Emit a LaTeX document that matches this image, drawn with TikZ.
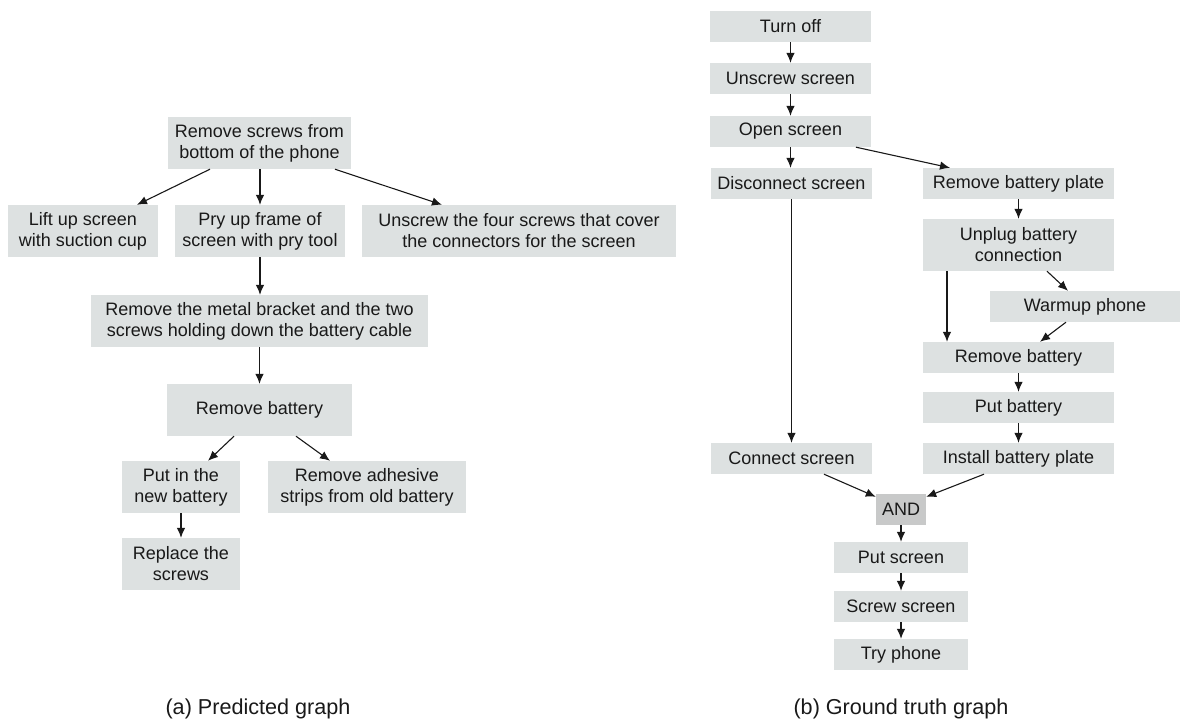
\documentclass[tikz,border=0pt]{standalone}
\usepackage{fontspec}
\setmainfont{Liberation Sans}
\usetikzlibrary{arrows.meta}
\definecolor{boxgray}{RGB}{221,225,225}
\definecolor{andgray}{RGB}{200,201,201}
\begin{document}
\begin{tikzpicture}[x=1pt,y=-1pt,
  box/.style={fill=boxgray, inner sep=0pt, align=center, font=\fontsize{18}{21}\selectfont, text=black!90},
  andbox/.style={box, fill=andgray},
  arr/.style={-{Latex[length=10pt,width=8.5pt]}, line width=1.1pt, black!90},
  captxt/.style={font=\fontsize{21.6}{26}\selectfont, text=black!90}]
\useasboundingbox (0,0) rectangle (1181,725);
% ---------- (a) Predicted graph ----------
\node[box, minimum width=183pt, minimum height=52pt] (a1) at (259.5,143) {Remove screws from\\bottom of the phone};
\node[box, minimum width=150pt, minimum height=52pt] (a2) at (83,231) {Lift up screen\\with suction cup};
\node[box, minimum width=170pt, minimum height=52pt] (a3) at (260,231) {Pry up frame of\\screen with pry tool};
\node[box, minimum width=314pt, minimum height=52pt] (a4) at (519,231) {Unscrew the four screws that cover\\the connectors for the screen};
\node[box, minimum width=337pt, minimum height=52pt] (a5) at (259.5,321) {Remove the metal bracket and the two\\screws holding down the battery cable};
\node[box, minimum width=185pt, minimum height=52pt] (a6) at (259.5,410) {Remove battery};
\node[box, minimum width=118pt, minimum height=52pt] (a7) at (181,487) {Put in the\\new battery};
\node[box, minimum width=198pt, minimum height=52pt] (a8) at (367,487) {Remove adhesive\\strips from old battery};
\node[box, minimum width=118pt, minimum height=52pt] (a9) at (181,564) {Replace the\\screws};
\node[captxt] (capa) at (258,709) {(a) Predicted graph};
\draw[arr] ([xshift=-49.5pt]a1.south) -- ([xshift=54pt]a2.north);
\draw[arr] ([xshift=0.5pt]a1.south) -- (a3.north);
\draw[arr] ([xshift=75.5pt]a1.south) -- ([xshift=-77pt]a4.north);
\draw[arr] (a3.south) -- ([xshift=0.5pt]a5.north);
\draw[arr] (a5.south) -- (a6.north);
\draw[arr] ([xshift=-25.5pt]a6.south) -- ([xshift=27pt]a7.north);
\draw[arr] ([xshift=36.5pt]a6.south) -- ([xshift=-37pt]a8.north);
\draw[arr] (a7.south) -- (a9.north);
% ---------- (b) Ground truth graph ----------
\node[box, minimum width=161pt, minimum height=31pt] (b1) at (790.5,26.5) {Turn off};
\node[box, minimum width=161pt, minimum height=31pt] (b2) at (790.5,78.5) {Unscrew screen};
\node[box, minimum width=161pt, minimum height=31pt] (b3) at (790.5,131.5) {Open screen};
\node[box, minimum width=161pt, minimum height=31pt] (b4) at (791.5,183.5) {Disconnect screen};
\node[box, minimum width=191pt, minimum height=31pt] (b5) at (1018.5,183.5) {Remove battery plate};
\node[box, minimum width=191pt, minimum height=52pt] (b6) at (1018.5,245) {Unplug battery\\connection};
\node[box, minimum width=190pt, minimum height=31pt] (b7) at (1085,306.5) {Warmup phone};
\node[box, minimum width=191pt, minimum height=31pt] (b8) at (1018.5,357.5) {Remove battery};
\node[box, minimum width=191pt, minimum height=31pt] (b9) at (1018.5,407.5) {Put battery};
\node[box, minimum width=161pt, minimum height=31pt] (b10) at (791.5,458.5) {Connect screen};
\node[box, minimum width=191pt, minimum height=31pt] (b11) at (1018.5,458.5) {Install battery plate};
\node[andbox, minimum width=50pt, minimum height=31pt] (band) at (901,509.5) {AND};
\node[box, minimum width=134pt, minimum height=31pt] (b12) at (901,557.5) {Put screen};
\node[box, minimum width=134pt, minimum height=31pt] (b13) at (901,606.5) {Screw screen};
\node[box, minimum width=134pt, minimum height=31pt] (b14) at (901,654.5) {Try phone};
\node[captxt] (capb) at (901,709) {(b) Ground truth graph};
\draw[arr] (b1.south) -- (b2.north);
\draw[arr] (b2.south) -- (b3.north);
\draw[arr] (b3.south) -- ([xshift=-1pt]b4.north);
\draw[arr] ([xshift=65.5pt]b3.south) -- ([xshift=-68.5pt]b5.north);
\draw[arr] (b4.south) -- (b10.north);
\draw[arr] (b5.south) -- (b6.north);
\draw[arr] ([xshift=-71.5pt]b6.south) -- ([xshift=-71.5pt]b8.north);
\draw[arr] ([xshift=28.5pt]b6.south) -- ([xshift=-17pt]b7.north);
\draw[arr] ([xshift=-19pt]b7.south) -- ([xshift=21.5pt]b8.north);
\draw[arr] (b8.south) -- (b9.north);
\draw[arr] (b9.south) -- (b11.north);
\draw[arr] ([xshift=32.5pt]b10.south) -- ([yshift=-3pt]band.north west);
\draw[arr] ([xshift=-34.5pt]b11.south) -- ([yshift=-3pt]band.north east);
\draw[arr] (band.south) -- (b12.north);
\draw[arr] (b12.south) -- (b13.north);
\draw[arr] (b13.south) -- (b14.north);
\end{tikzpicture}
\end{document}
